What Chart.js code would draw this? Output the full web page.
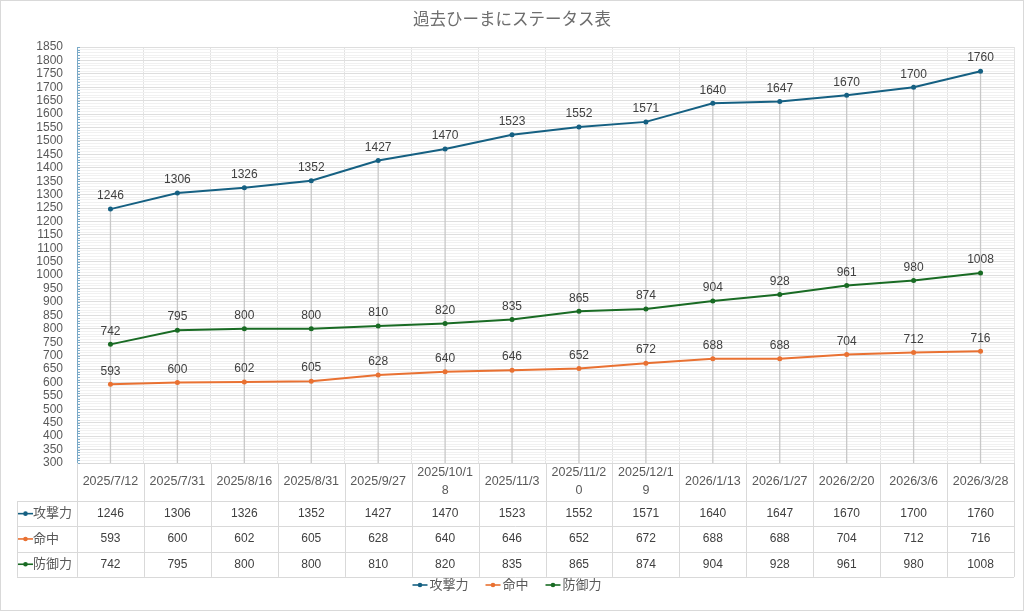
<!DOCTYPE html>
<html>
<head>
<meta charset="utf-8">
<script src="https://cdn.jsdelivr.net/npm/chart.js@4/dist/chart.umd.min.js"></script>
<style>
  body { margin: 0; background: #fff; }
  #wrap { width: 1024px; height: 611px; }
</style>
</head>
<body>
<div id="wrap"><canvas id="myChart"></canvas></div>
<script>
var title = '過去ひーまにステータス表';
var categories = ['2025/7/12', '2025/7/31', '2025/8/16', '2025/8/31', '2025/9/27', '2025/10/18', '2025/11/3',
  '2025/11/20', '2025/12/19', '2026/1/13', '2026/1/27', '2026/2/20', '2026/3/6', '2026/3/28'];
var seriesNames = ['攻撃力', '命中', '防御力'];
var attack = [1246, 1306, 1326, 1352, 1427, 1470, 1523, 1552, 1571, 1640, 1647, 1670, 1700, 1760];
var hit = [593, 600, 602, 605, 628, 640, 646, 652, 672, 688, 688, 704, 712, 716];
var defense = [742, 795, 800, 800, 810, 820, 835, 865, 874, 904, 928, 961, 980, 1008];
var colors = ['#156082', '#e97132', '#196b24'];
var yMin = 300, yMax = 1850, yStep = 10, yLabelStep = 50;

var FONT = '"Liberation Sans", "Noto Sans CJK JP", sans-serif';
var TEXT = '#595959';
var LINE = '#d9d9d9';
var AXIS = '#7aaac8';

function drawKey(ctx, x, y, color) {
  ctx.save();
  ctx.strokeStyle = color;
  ctx.lineWidth = 1.6;
  ctx.beginPath();
  ctx.moveTo(x, y);
  ctx.lineTo(x + 15, y);
  ctx.stroke();
  ctx.fillStyle = color;
  ctx.beginPath();
  ctx.arc(x + 7.5, y, 2.3, 0, Math.PI * 2);
  ctx.fill();
  ctx.restore();
}

function splitLabel(s) {
  if (s.length > 9) return [s.slice(0, 9), s.slice(9)];
  return [s];
}

var extras = {
  id: 'extras',
  beforeDraw: function(chart) {
    var ctx = chart.ctx;
    ctx.save();
    ctx.fillStyle = '#fff';
    ctx.fillRect(0, 0, chart.width, chart.height);
    ctx.restore();
  },
  beforeDatasetsDraw: function(chart) {
    var ctx = chart.ctx, x = chart.scales.x, y = chart.scales.y, area = chart.chartArea;
    ctx.save();
    // minor tick marks on the inside of the value axis
    ctx.strokeStyle = AXIS;
    ctx.lineWidth = 1;
    ctx.beginPath();
    y.ticks.forEach(function(t) {
      var py = Math.round(y.getPixelForValue(t.value)) + 0.5;
      ctx.moveTo(area.left, py);
      ctx.lineTo(area.left + 3, py);
    });
    ctx.stroke();
    // drop lines from the highest point down to the axis
    ctx.strokeStyle = '#c8c8c8';
    ctx.lineWidth = 1.3;
    for (var i = 0; i < categories.length; i++) {
      var top = Math.max(attack[i], hit[i], defense[i]);
      var px = x.getPixelForValue(i);
      ctx.beginPath();
      ctx.moveTo(px, y.getPixelForValue(top));
      ctx.lineTo(px, area.bottom);
      ctx.stroke();
    }
    ctx.restore();
  },
  afterDatasetsDraw: function(chart) {
    var ctx = chart.ctx;
    ctx.save();
    ctx.font = '12px ' + FONT;
    ctx.fillStyle = '#404040';
    ctx.textAlign = 'center';
    ctx.textBaseline = 'middle';
    chart.data.datasets.forEach(function(ds, di) {
      var meta = chart.getDatasetMeta(di);
      meta.data.forEach(function(pt, i) {
        ctx.fillText(String(ds.data[i]), pt.x, pt.y - 13);
      });
    });
    ctx.restore();
  },
  afterDraw: function(chart) {
    var ctx = chart.ctx, x = chart.scales.x, area = chart.chartArea;
    var n = categories.length;
    var colW = (area.right - area.left) / n;
    var rowTop = area.bottom, headBottom = area.bottom + 38, rowH = 25.3;
    var tableBottom = headBottom + rowH * 3;
    var headLeft = 17;

    ctx.save();
    // title
    ctx.font = '16.5px ' + FONT;
    ctx.fillStyle = '#6e6e6e';
    ctx.textAlign = 'center';
    ctx.textBaseline = 'middle';
    ctx.fillText(title, 512, 20);

    // table lines
    ctx.strokeStyle = LINE;
    ctx.lineWidth = 1;
    ctx.beginPath();
    for (var i = 0; i <= n; i++) {
      var bx = Math.round(area.left + colW * i) + 0.5;
      ctx.moveTo(bx, rowTop);
      ctx.lineTo(bx, tableBottom);
    }
    ctx.moveTo(headLeft + 0.5, headBottom);
    ctx.lineTo(headLeft + 0.5, tableBottom);
    for (var r = 0; r <= 3; r++) {
      var ly = Math.round(headBottom + rowH * r) + 0.5;
      ctx.moveTo(headLeft, ly);
      ctx.lineTo(area.right, ly);
    }
    ctx.stroke();

    // category labels
    ctx.font = '12.5px ' + FONT;
    ctx.fillStyle = TEXT;
    for (var c = 0; c < n; c++) {
      var cx = x.getPixelForValue(c);
      var parts = splitLabel(categories[c]);
      var mid = (rowTop + headBottom) / 2;
      parts.forEach(function(p, k) {
        ctx.fillText(p, cx, mid + (k - (parts.length - 1) / 2) * 18);
      });
    }

    // data rows
    var rows = [attack, hit, defense];
    rows.forEach(function(vals, r) {
      var cy = headBottom + rowH * r + rowH / 2;
      drawKey(ctx, headLeft + 1, cy, colors[r]);
      ctx.font = '13px ' + FONT;
      ctx.fillStyle = TEXT;
      ctx.textAlign = 'left';
      ctx.fillText(seriesNames[r], headLeft + 16, cy);
      ctx.font = '12px ' + FONT;
      ctx.fillStyle = '#404040';
      ctx.textAlign = 'center';
      vals.forEach(function(v, c) {
        ctx.fillText(String(v), x.getPixelForValue(c), cy);
      });
    });

    // legend
    ctx.font = '13px ' + FONT;
    var widths = seriesNames.map(function(s) { return 17 + ctx.measureText(s).width; });
    var gap = 17;
    var total = widths.reduce(function(a, b) { return a + b; }, 0) + gap * (widths.length - 1);
    var lx = 507 - total / 2;
    var legY = 585;
    ctx.textAlign = 'left';
    seriesNames.forEach(function(s, k) {
      drawKey(ctx, lx, legY, colors[k]);
      ctx.fillStyle = TEXT;
      ctx.fillText(s, lx + 17, legY);
      lx += widths[k] + gap;
    });

    // outer border
    ctx.strokeStyle = LINE;
    ctx.strokeRect(0.5, 0.5, chart.width - 1, chart.height - 1);
    ctx.restore();
  }
};

var datasets = [attack, hit, defense].map(function(vals, k) {
  return {
    label: seriesNames[k],
    data: vals,
    borderColor: colors[k],
    backgroundColor: colors[k],
    borderWidth: 2,
    pointRadius: 2.5,
    pointBorderWidth: 0,
    pointBackgroundColor: colors[k],
    tension: 0
  };
});

var ctx = document.getElementById('myChart').getContext('2d');
var myChart = new Chart(ctx, {
  type: 'line',
  data: { labels: categories, datasets: datasets },
  plugins: [extras],
  options: {
    responsive: true,
    maintainAspectRatio: false,
    animation: false,
    layout: { padding: { left: 0, right: 10, top: 47, bottom: 0 } },
    plugins: {
      legend: { display: false },
      title: { display: false },
      tooltip: { enabled: false }
    },
    scales: {
      x: {
        type: 'category',
        offset: true,
        grid: { color: '#e3e3e3', drawTicks: false, offset: true },
        border: { color: LINE },
        ticks: { display: false },
        afterFit: function(s) { s.height = 148; }
      },
      y: {
        min: yMin,
        max: yMax,
        grid: {
          color: function(c) { return c.tick && c.tick.value % yLabelStep === 0 ? '#dedede' : '#f1f1f1'; },
          drawTicks: false
        },
        border: { color: AXIS },
        ticks: {
          stepSize: yStep,
          autoSkip: false,
          padding: 14,
          color: TEXT,
          font: { size: 12, family: FONT },
          callback: function(v) { return v % yLabelStep === 0 ? v : ''; }
        },
        afterFit: function(s) { s.width = 77; }
      }
    }
  }
});
</script>
</body>
</html>
